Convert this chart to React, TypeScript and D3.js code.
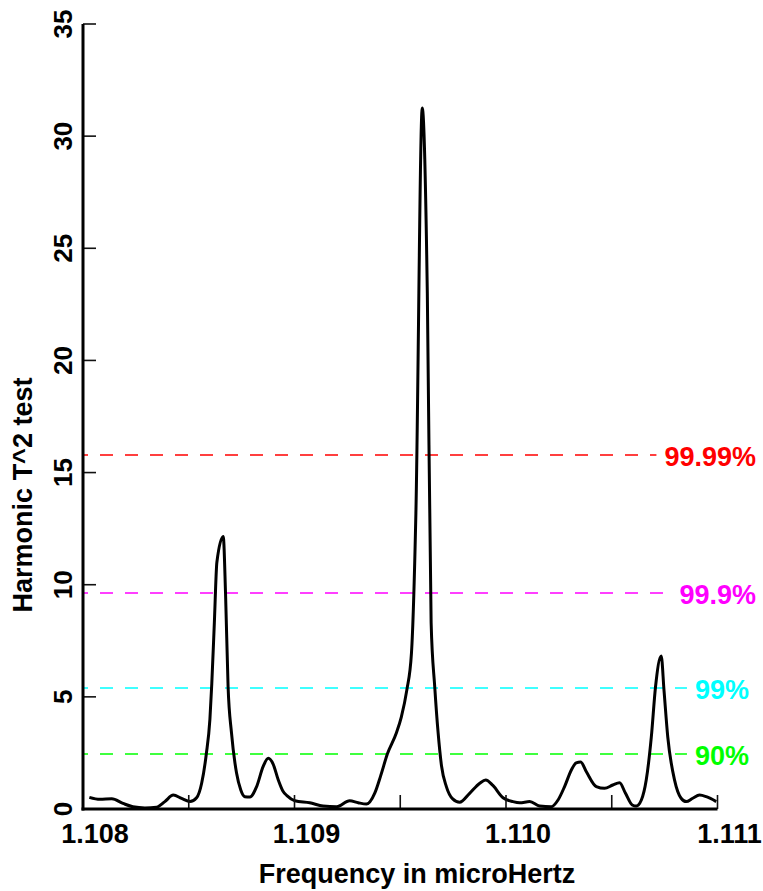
import React, { useEffect, useRef } from "react";
import * as d3 from "d3";

// Harmonic T^2 test statistic versus frequency (microHertz)
const frequency = [
  1.10803, 1.10808, 1.108136, 1.108189, 1.108236, 1.108293, 1.108348, 1.108387,
  1.108427, 1.108466, 1.108506, 1.108537, 1.108561, 1.108583, 1.1086, 1.108609,
  1.108621, 1.108633, 1.108663, 1.108674, 1.108686, 1.108702, 1.108726, 1.108746,
  1.108765, 1.108789, 1.108821, 1.108852, 1.108876, 1.108899, 1.108923, 1.108945,
  1.108964, 1.109002, 1.109072, 1.109135, 1.109199, 1.109261, 1.109301, 1.10934,
  1.10938, 1.109408, 1.109439, 1.109482, 1.109505, 1.109531, 1.109553, 1.109574,
  1.109604, 1.109628, 1.109646, 1.109663, 1.109679, 1.109695, 1.109718, 1.109748,
  1.109781, 1.109828, 1.109876, 1.109904, 1.109938, 1.109986, 1.110033, 1.110065,
  1.110112, 1.110159, 1.110214, 1.110246, 1.110277, 1.110309, 1.110332, 1.110353,
  1.11038, 1.110427, 1.110466, 1.110505, 1.110537, 1.110565, 1.110597, 1.110616,
  1.11064, 1.110663, 1.110687, 1.110707, 1.110734, 1.110747, 1.110765, 1.110797,
  1.110828, 1.110852, 1.110883, 1.110915, 1.110947, 1.110994,
];

const t2Value = [
  0.52, 0.43, 0.46, 0.25, 0.1, 0.05, 0.08, 0.33,
  0.62, 0.47, 0.33, 0.5, 1.15, 2.45, 4.0, 5.6,
  8.3, 11.0, 12.15, 9.6, 5.45, 3.4, 1.6, 0.85,
  0.55, 0.53, 1.0, 1.9, 2.26, 2.0, 1.3, 0.8,
  0.6, 0.37, 0.28, 0.13, 0.1, 0.37, 0.28, 0.22,
  0.72, 1.5, 2.45, 3.4, 4.1, 5.3, 6.95, 13.2,
  31.25, 23.0, 8.3, 5.46, 3.4, 1.93, 1.0, 0.45,
  0.3, 0.7, 1.15, 1.29, 1.05, 0.5, 0.33, 0.28,
  0.33, 0.13, 0.1, 0.4, 1.0, 1.74, 2.06, 2.1,
  1.66, 1.0, 0.92, 1.07, 1.17, 0.7, 0.18, 0.13,
  0.4, 1.29, 3.2, 5.45, 6.82, 5.3, 3.2, 1.29,
  0.48, 0.33, 0.48, 0.62, 0.55, 0.33,
];

// Significance levels
const thresholdValues = [15.78, 9.63, 5.39, 2.45];
const thresholdLabels = ["99.99%", "99.9%", "99%", "90%"];
const thresholdColors = ["#ff0000", "#ff00ff", "#00ffff", "#00ff00"];
const thresholdLabelRight = [756, 756, 749, 749];

// Axes
const xDomain = [1.108, 1.111];
const yDomain = [0, 35];
const xTickValues = [1.1085, 1.109, 1.1095, 1.11, 1.1105, 1.111];
const xLabelValues = [1.108, 1.109, 1.11, 1.111];
const xLabelText = ["1.108", "1.109", "1.110", "1.111"];
const yTickValues = [0, 5, 10, 15, 20, 25, 30, 35];

const WIDTH = 763;
const HEIGHT = 891;
const FONT = "'Liberation Sans', Arial, Helvetica, sans-serif";

export default function App() {
  const ref = useRef<SVGSVGElement>(null);

  useEffect(() => {
    const svg = d3.select(ref.current);
    svg.selectAll("*").remove();

    const x = d3.scaleLinear().domain(xDomain).range([83, 717.5]);
    const y = d3.scaleLinear().domain(yDomain).range([809, 24]);
    const x0 = x(xDomain[0]);
    const y0 = y(yDomain[0]);

    // significance levels: label first, then the dashed line up to it
    thresholdValues.forEach((v, i) => {
      const yy = y(v);
      const label = svg
        .append("text")
        .attr("x", thresholdLabelRight[i])
        .attr("y", yy + 11)
        .attr("text-anchor", "end")
        .attr("font-family", FONT)
        .attr("font-weight", "bold")
        .attr("font-size", 27)
        .attr("fill", thresholdColors[i])
        .text(thresholdLabels[i]);
      const bb = (label.node() as SVGTextElement).getBBox();
      svg
        .append("line")
        .attr("x1", x0)
        .attr("x2", bb.x - 8)
        .attr("y1", yy)
        .attr("y2", yy)
        .attr("stroke", thresholdColors[i])
        .attr("stroke-width", 1.5)
        .attr("stroke-dasharray", "13,12")
        .attr("stroke-dashoffset", 8);
    });

    // T^2 curve
    const pts = frequency.map((f, i) => [f, t2Value[i]] as [number, number]);
    const line = d3
      .line<[number, number]>()
      .x((d) => x(d[0]))
      .y((d) => y(d[1]))
      .curve(d3.curveMonotoneX);
    svg
      .append("path")
      .attr("d", line(pts))
      .attr("fill", "none")
      .attr("stroke", "#000")
      .attr("stroke-width", 3)
      .attr("stroke-linejoin", "round");

    // x ticks (inward)
    xTickValues.forEach((t) => {
      svg
        .append("line")
        .attr("x1", x(t))
        .attr("x2", x(t))
        .attr("y1", y0)
        .attr("y2", y0 - 14)
        .attr("stroke", "#111")
        .attr("stroke-width", 1.6);
    });
    // y ticks (inward)
    yTickValues.forEach((t) => {
      svg
        .append("line")
        .attr("x1", x0)
        .attr("x2", x0 + 13)
        .attr("y1", y(t))
        .attr("y2", y(t))
        .attr("stroke", "#111")
        .attr("stroke-width", 1.6);
    });

    // axis lines
    svg
      .append("line")
      .attr("x1", x0)
      .attr("x2", x0)
      .attr("y1", y(yDomain[1]))
      .attr("y2", y0 + 1.5)
      .attr("stroke", "#000")
      .attr("stroke-width", 3);
    svg
      .append("line")
      .attr("x1", x0 - 1.5)
      .attr("x2", x(xDomain[1]))
      .attr("y1", y0)
      .attr("y2", y0)
      .attr("stroke", "#000")
      .attr("stroke-width", 3);

    // x tick labels
    xLabelValues.forEach((t, i) => {
      svg
        .append("text")
        .attr("x", x(t) + 12)
        .attr("y", 843)
        .attr("text-anchor", "middle")
        .attr("font-family", FONT)
        .attr("font-weight", "bold")
        .attr("font-size", 27)
        .attr("fill", "#000")
        .text(xLabelText[i]);
    });

    // y tick labels (rotated)
    yTickValues.forEach((t) => {
      svg
        .append("text")
        .attr("transform", `translate(72,${y(t)}) rotate(-90)`)
        .attr("text-anchor", "middle")
        .attr("font-family", FONT)
        .attr("font-weight", "bold")
        .attr("font-size", 26)
        .attr("fill", "#000")
        .text(String(t));
    });

    // axis titles
    svg
      .append("text")
      .attr("x", 417)
      .attr("y", 883)
      .attr("text-anchor", "middle")
      .attr("font-family", FONT)
      .attr("font-weight", "bold")
      .attr("font-size", 27)
      .attr("fill", "#000")
      .text("Frequency in microHertz");
    svg
      .append("text")
      .attr("transform", "translate(32,495) rotate(-90)")
      .attr("text-anchor", "middle")
      .attr("font-family", FONT)
      .attr("font-weight", "bold")
      .attr("font-size", 27)
      .attr("fill", "#000")
      .text("Harmonic T^2 test");
  }, []);

  return (
    <svg
      ref={ref}
      width={WIDTH}
      height={HEIGHT}
      style={{ position: "absolute", left: 0, top: 0, background: "#fff" }}
    />
  );
}
